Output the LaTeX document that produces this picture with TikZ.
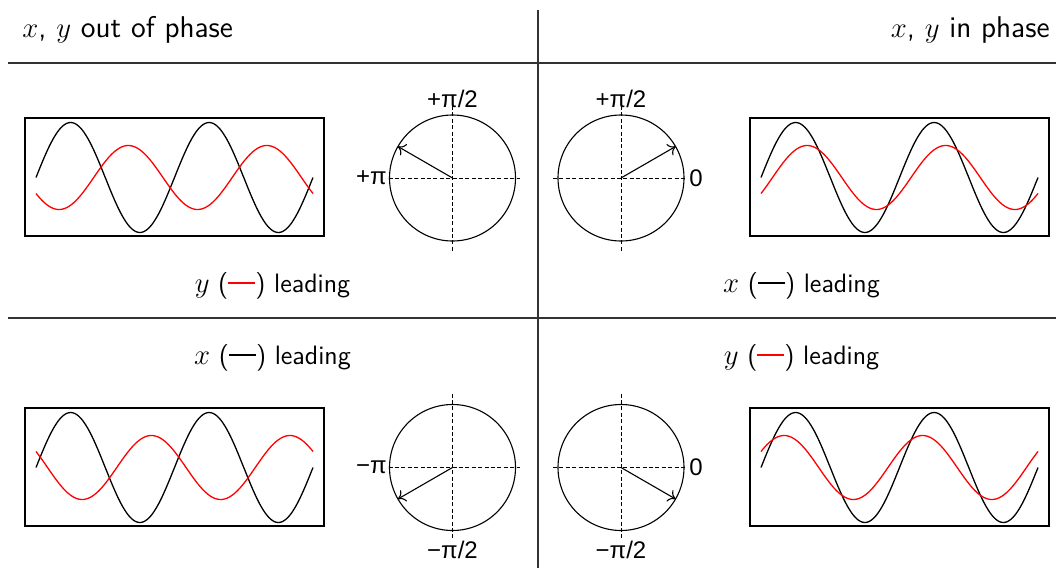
\documentclass[tikz,border=0pt]{standalone}
\usepackage{fontspec}
\newfontfamily\lblfont{Liberation Sans}
\usetikzlibrary{arrows.meta}
\newcommand\redbar{{\color{red}\rule[0.31em]{13.5pt}{0.8pt}}}
\newcommand\blackbar{{\color{black}\rule[0.31em]{13.5pt}{0.8pt}}}
\newcommand\mywaves[3]{%
  \draw[wave] plot[domain=0:720,samples=145,smooth] ({#1+\x/720*277},{#2-55*sin(\x)});
  \draw[redwave] plot[domain=0:720,samples=145,smooth] ({#1+\x/720*277},{#2-32*sin(\x-#3)});}
\begin{document}
\begin{tikzpicture}[x=0.5pt,y=-0.5pt,
  sep/.style={line width=0.7pt, draw=black!80},
  frame/.style={line width=0.75pt},
  wave/.style={line width=0.65pt},
  redwave/.style={wave, red},
  ring/.style={line width=0.55pt},
  axis/.style={line width=0.4pt, dash pattern=on 2pt off 1.2pt},
  phasor/.style={line width=0.55pt, -{To[length=3.5pt,width=6.5pt]}},
  ttl/.style={font=\sffamily\fontsize{15}{18}\selectfont, inner sep=0pt},
  txt/.style={font=\sffamily\fontsize{13.3}{16}\selectfont, inner sep=0pt},
  lbl/.style={font=\lblfont\fontsize{12}{14}\selectfont, inner sep=0pt}]
\useasboundingbox (0,0) rectangle (1056,568);

% separators
\coordinate (vt) at (538,10); \coordinate (vb) at (538,568);
\coordinate (h1l) at (8,63); \coordinate (h1r) at (1056,63);
\coordinate (h2l) at (8,318); \coordinate (h2r) at (1056,318);
\draw[sep] (vt) -- (vb);
\draw[sep] (h1l) -- (h1r);
\draw[sep] (h2l) -- (h2r);

% titles
\node[ttl, anchor=base west] (titleL) at (22,37) {$x$, $y$ out of phase};
\node[ttl, anchor=base east] (titleR) at (1050,37) {$x$, $y$ in phase};

% legends
\node[txt, anchor=base] (legTL) at (272.5,292) {$y$ (\redbar) leading};
\node[txt, anchor=base] (legTR) at (801.5,292) {$x$ (\blackbar) leading};
\node[txt, anchor=base] (legBL) at (272.5,364) {$x$ (\blackbar) leading};
\node[txt, anchor=base] (legBR) at (801.5,364) {$y$ (\redbar) leading};

% wave boxes
\draw[frame] (25,118) rectangle (324,236);
\draw[frame] (750,118) rectangle (1049,236);
\draw[frame] (25,408) rectangle (324,526);
\draw[frame] (750,408) rectangle (1049,526);
\mywaves{36}{177.5}{150}
\mywaves{761}{177.5}{30}
\mywaves{36}{467.5}{-150}
\mywaves{761}{467.5}{-30}

% phase circles
\coordinate (cTL) at (452.5,178);
\draw[axis] (388.5,178) -- (519.5,178);
\draw[axis] (452.5,106) -- (452.5,253);
\draw[ring] (cTL) circle[radius=63];
\draw[phasor] (cTL) -- ++(-150:63);
\node[lbl, anchor=east] (pTL) at (387,178) {+π};
\node[lbl, anchor=base] (hTL) at (452.5,107) {+π/2};

\coordinate (cTR) at (621,178);
\draw[axis] (553,178) -- (685,178);
\draw[axis] (621,106) -- (621,253);
\draw[ring] (cTR) circle[radius=63];
\draw[phasor] (cTR) -- ++(-30:63);
\node[lbl, anchor=west] (zTR) at (689,178) {0};
\node[lbl, anchor=base] (hTR) at (621,107) {+π/2};

\coordinate (cBL) at (452.5,467.5);
\draw[axis] (388.5,467.5) -- (519.5,467.5);
\draw[axis] (452.5,393.5) -- (452.5,539.5);
\draw[ring] (cBL) circle[radius=63];
\draw[phasor] (cBL) -- ++(150:63);
\node[lbl, anchor=east] (pBL) at (387,467.5) {−π};
\node[lbl, anchor=base] (hBL) at (452.5,558) {−π/2};

\coordinate (cBR) at (621,467.5);
\draw[axis] (553,467.5) -- (685,467.5);
\draw[axis] (621,393.5) -- (621,539.5);
\draw[ring] (cBR) circle[radius=63];
\draw[phasor] (cBR) -- ++(30:63);
\node[lbl, anchor=west] (zBR) at (689,467.5) {0};
\node[lbl, anchor=base] (hBR) at (621,558) {−π/2};
\end{tikzpicture}
\end{document}
